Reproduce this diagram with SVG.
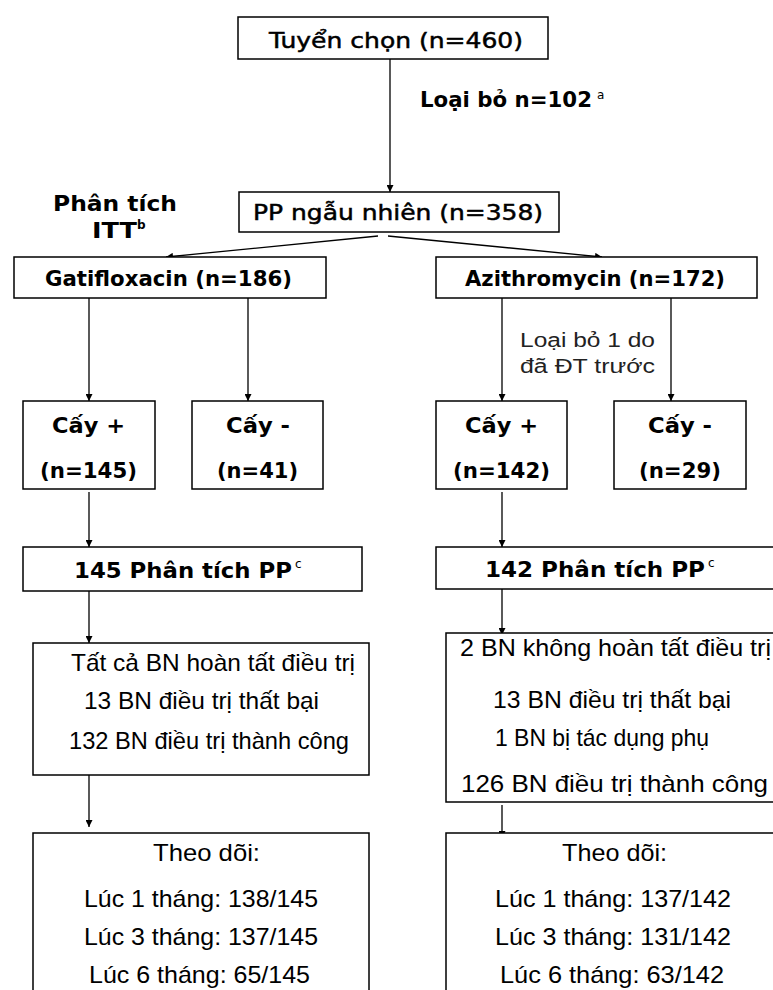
<svg xmlns="http://www.w3.org/2000/svg" width="773" height="990" viewBox="0 0 773 990">
<style>
.box{fill:#fff;stroke:#000;stroke-width:1.5}
.tm{font-family:"DejaVu Sans","Liberation Sans",sans-serif;font-size:22px;fill:#000;stroke:#000;stroke-width:0.5}
.tb{font-family:"DejaVu Sans","Liberation Sans",sans-serif;font-weight:bold;font-size:22px;fill:#000}
.tn{font-family:"Liberation Sans Narrow","Liberation Sans",sans-serif;font-size:24px;fill:#000}
.ts{font-family:"Liberation Sans Narrow","Liberation Sans",sans-serif;font-size:20px;fill:#222}
.sup{font-family:"DejaVu Sans","Liberation Sans",sans-serif;font-size:12px;fill:#000}
.conn line{stroke:#000;stroke-width:1.3;marker-end:url(#ah)}
</style>
<defs>
<marker id="ah" viewBox="0 0 10 10" refX="10" refY="5" markerWidth="7" markerHeight="7" markerUnits="userSpaceOnUse" orient="auto">
<path d="M0,0 L10,5 L0,10 z" fill="#000"/>
</marker>
</defs>
<rect width="773" height="990" fill="#fff"/>
<g id="connectors" class="conn">
<line x1="390" y1="59" x2="390" y2="192"/>
<line x1="378" y1="236" x2="166" y2="257"/>
<line x1="388" y1="236" x2="602" y2="257"/>
<line x1="89" y1="298" x2="89" y2="401"/>
<line x1="248" y1="298" x2="248" y2="401"/>
<line x1="502" y1="298" x2="502" y2="401"/>
<line x1="671" y1="298" x2="671" y2="401"/>
<line x1="89" y1="492" x2="89" y2="547"/>
<line x1="502" y1="492" x2="502" y2="547"/>
<line x1="89" y1="591" x2="89" y2="643"/>
<line x1="502" y1="589" x2="502" y2="635"/>
<line x1="89" y1="775" x2="89" y2="827"/>
<line x1="502" y1="805" x2="502" y2="838"/>
</g>
<g id="n-tuyenchon">
<rect class="box" x="238" y="17" width="310" height="42"/>
<text class="tm" x="269" y="48" textLength="254" lengthAdjust="spacingAndGlyphs">Tuyển chọn (n=460)</text>
</g>
<g id="n-loaibo">
<text class="tb" x="420" y="107" font-size="20" textLength="172" lengthAdjust="spacingAndGlyphs">Loại bỏ n=102</text>
<text class="sup" x="597" y="99">a</text>
</g>
<g id="n-itt">
<text class="tb" x="53" y="211" textLength="124" lengthAdjust="spacingAndGlyphs">Phân tích</text>
<text class="tb" x="92" y="238" textLength="45" lengthAdjust="spacingAndGlyphs">ITT</text>
<text class="sup" x="137" y="229" font-weight="bold">b</text>
</g>
<g id="n-ngaunhien">
<rect class="box" x="239" y="192" width="320" height="40"/>
<text class="tm" x="253" y="220" textLength="290" lengthAdjust="spacingAndGlyphs">PP ngẫu nhiên (n=358)</text>
</g>
<g id="n-gati">
<rect class="box" x="14" y="257" width="312" height="41"/>
<text class="tb" x="45" y="286" textLength="247" lengthAdjust="spacingAndGlyphs">Gatifloxacin (n=186)</text>
</g>
<g id="n-azi">
<rect class="box" x="436" y="257" width="321" height="41"/>
<text class="tb" x="465" y="286" textLength="260" lengthAdjust="spacingAndGlyphs">Azithromycin (n=172)</text>
</g>
<g id="n-loaibo1">
<text class="ts" x="520" y="347" textLength="135" lengthAdjust="spacingAndGlyphs">Loại bỏ 1 do</text>
<text class="ts" x="520" y="373" textLength="135" lengthAdjust="spacingAndGlyphs">đã ĐT trước</text>
</g>
<g id="n-gcayplus">
<rect class="box" x="23" y="401" width="132" height="88"/>
<text class="tb" x="52" y="433" textLength="73" lengthAdjust="spacingAndGlyphs">Cấy +</text>
<text class="tb" x="40" y="478" textLength="97" lengthAdjust="spacingAndGlyphs">(n=145)</text>
</g>
<g id="n-gcayminus">
<rect class="box" x="192" y="401" width="131" height="88"/>
<text class="tb" x="226" y="433" textLength="64" lengthAdjust="spacingAndGlyphs">Cấy -</text>
<text class="tb" x="217" y="478" textLength="81" lengthAdjust="spacingAndGlyphs">(n=41)</text>
</g>
<g id="n-acayplus">
<rect class="box" x="436" y="401" width="131" height="88"/>
<text class="tb" x="465" y="433" textLength="73" lengthAdjust="spacingAndGlyphs">Cấy +</text>
<text class="tb" x="453" y="478" textLength="97" lengthAdjust="spacingAndGlyphs">(n=142)</text>
</g>
<g id="n-acayminus">
<rect class="box" x="614" y="401" width="132" height="88"/>
<text class="tb" x="648" y="433" textLength="64" lengthAdjust="spacingAndGlyphs">Cấy -</text>
<text class="tb" x="639" y="478" textLength="82" lengthAdjust="spacingAndGlyphs">(n=29)</text>
</g>
<g id="n-pp145">
<rect class="box" x="23" y="547" width="339" height="44"/>
<text class="tb" x="74" y="578" textLength="218" lengthAdjust="spacingAndGlyphs">145 Phân tích PP</text>
<text class="sup" x="295" y="568" font-size="14">c</text>
</g>
<g id="n-pp142">
<rect class="box" x="436" y="547" width="345" height="42"/>
<text class="tb" x="485" y="577" textLength="220" lengthAdjust="spacingAndGlyphs">142 Phân tích PP</text>
<text class="sup" x="708" y="567" font-size="14">c</text>
</g>
<g id="n-kq-gati">
<rect class="box" x="33" y="643" width="336" height="132"/>
<text class="tn" x="71" y="671" textLength="284" lengthAdjust="spacingAndGlyphs">Tất cả BN hoàn tất điều trị</text>
<text class="tn" x="84" y="709" textLength="235" lengthAdjust="spacingAndGlyphs">13 BN điều trị thất bại</text>
<text class="tn" x="69" y="749" textLength="280" lengthAdjust="spacingAndGlyphs">132 BN điều trị thành công</text>
</g>
<g id="n-kq-azi">
<rect class="box" x="446" y="633" width="335" height="169"/>
<text class="tn" x="460" y="656" textLength="311" lengthAdjust="spacingAndGlyphs">2 BN không hoàn tất điều trị</text>
<text class="tn" x="493" y="708" textLength="238" lengthAdjust="spacingAndGlyphs">13 BN điều trị thất bại</text>
<text class="tn" x="495" y="746" textLength="214" lengthAdjust="spacingAndGlyphs">1 BN bị tác dụng phụ</text>
<text class="tn" x="461" y="792" textLength="307" lengthAdjust="spacingAndGlyphs">126 BN điều trị thành công</text>
</g>
<g id="n-td-gati">
<rect class="box" x="33" y="833" width="336" height="165"/>
<text class="tn" x="153" y="861" textLength="107" lengthAdjust="spacingAndGlyphs">Theo dõi:</text>
<text class="tn" x="84" y="907" textLength="234" lengthAdjust="spacingAndGlyphs">Lúc 1 tháng: 138/145</text>
<text class="tn" x="84" y="945" textLength="234" lengthAdjust="spacingAndGlyphs">Lúc 3 tháng: 137/145</text>
<text class="tn" x="89" y="983" textLength="221" lengthAdjust="spacingAndGlyphs">Lúc 6 tháng: 65/145</text>
</g>
<g id="n-td-azi">
<rect class="box" x="446" y="833" width="335" height="165"/>
<text class="tn" x="562" y="861" textLength="105" lengthAdjust="spacingAndGlyphs">Theo dõi:</text>
<text class="tn" x="495" y="907" textLength="236" lengthAdjust="spacingAndGlyphs">Lúc 1 tháng: 137/142</text>
<text class="tn" x="495" y="945" textLength="236" lengthAdjust="spacingAndGlyphs">Lúc 3 tháng: 131/142</text>
<text class="tn" x="500" y="983" textLength="224" lengthAdjust="spacingAndGlyphs">Lúc 6 tháng: 63/142</text>
</g>
</svg>
